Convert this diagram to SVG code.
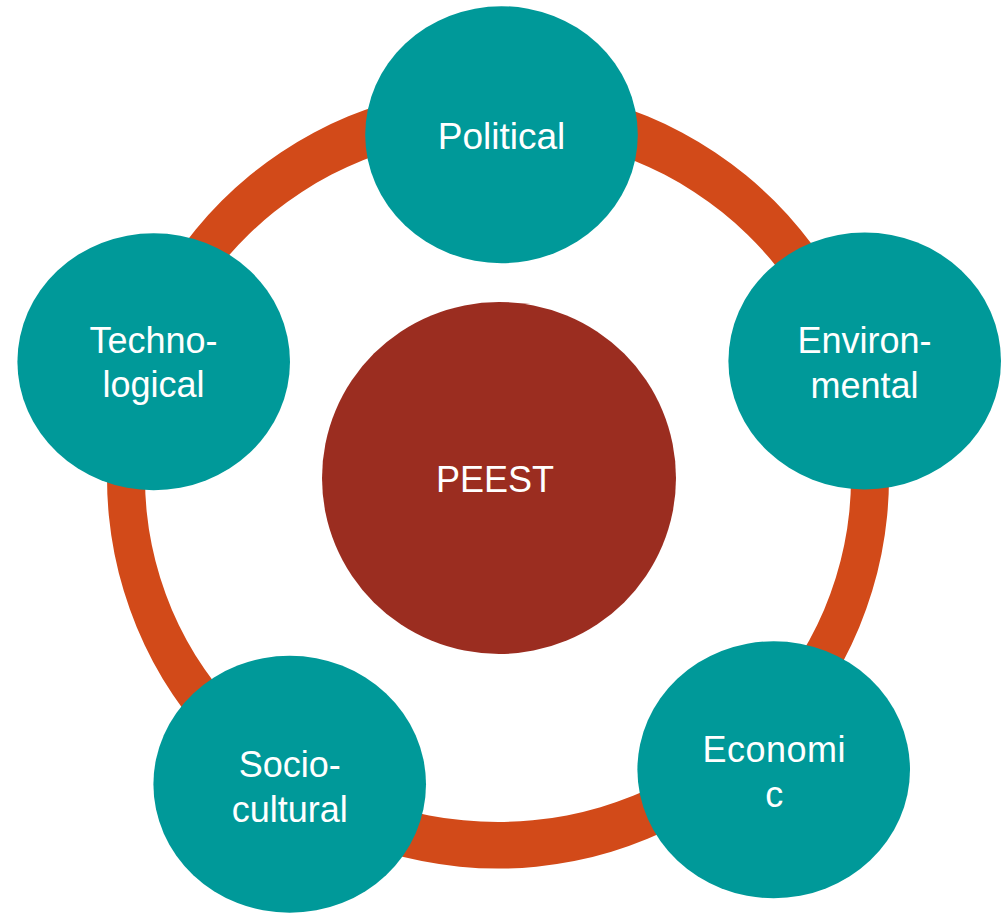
<svg xmlns="http://www.w3.org/2000/svg" width="1007" height="913" viewBox="0 0 1007 913">
  <style>
    .node { fill: #009999; }
    .core { fill: #9B2D20; }
    .ring { fill: #D24A19; fill-rule: evenodd; }
    .lbl { fill: #FFFFFF; font-family: "Liberation Sans", Arial, sans-serif; font-size: 36px; text-anchor: middle; }
  </style>
  <rect width="1007" height="913" fill="#FFFFFF"/>
  <g id="connectors">
    <path class="ring" d="M 107 477.6 A 391 391 0 1 0 889 477.6 A 391 391 0 1 0 107 477.6 Z M 145 478 A 353 344 0 1 0 851 478 A 353 344 0 1 0 145 478 Z"/>
  </g>
  <g id="node-peest">
    <ellipse class="core" cx="499" cy="478" rx="177" ry="176"/>
    <text class="lbl" x="495" y="491.5">PEEST</text>
  </g>
  <g id="node-political">
    <ellipse class="node" cx="501.5" cy="134.7" rx="136.3" ry="128.5"/>
    <text class="lbl" x="501.5" y="149" style="font-size:37px">Political</text>
  </g>
  <g id="node-environmental">
    <ellipse class="node" cx="864.7" cy="361" rx="136.3" ry="128.5"/>
    <text class="lbl" x="864.5" y="352.7">Environ-</text>
    <text class="lbl" x="864.5" y="397.5">mental</text>
  </g>
  <g id="node-economic">
    <ellipse class="node" cx="773.7" cy="769.7" rx="136.3" ry="128.5"/>
    <text class="lbl" x="774.2" y="761.7" letter-spacing="0.5">Economi</text>
    <text class="lbl" x="774.2" y="806.5">c</text>
  </g>
  <g id="node-sociocultural">
    <ellipse class="node" cx="289.7" cy="784.3" rx="136.3" ry="128.5"/>
    <text class="lbl" x="289.7" y="776.7">Socio-</text>
    <text class="lbl" x="289.7" y="821.5">cultural</text>
  </g>
  <g id="node-technological">
    <ellipse class="node" cx="153.7" cy="361.7" rx="136.3" ry="128.5"/>
    <text class="lbl" x="153.5" y="353.3">Techno-</text>
    <text class="lbl" x="153.5" y="397.3">logical</text>
  </g>
</svg>
